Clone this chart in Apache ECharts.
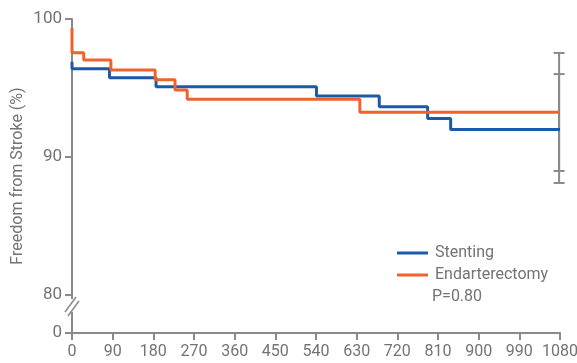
<!DOCTYPE html>
<html>
<head>
<meta charset="utf-8">
<script src="https://cdn.jsdelivr.net/npm/echarts@6/dist/echarts.min.js"></script>
<style>
  html, body { margin: 0; padding: 0; background: #fff; }
  #chart { width: 577px; height: 363px; }
</style>
</head>
<body>
<div id="chart"></div>
<script>
// days since procedure, survival free from stroke (%)
const stentingDays = [0, 0, 83, 186, 541, 680, 787, 838, 1080];
const stentingValues = [96.9, 96.4, 95.75, 95.1, 94.42, 93.65, 92.8, 92.0, 92.0];
const endartDays = [0, 0, 26, 86, 184, 228, 255, 637, 1080];
const endartValues = [99.35, 97.56, 97.03, 96.3, 95.6, 94.85, 94.18, 93.24, 93.24];

// 95% CI at end of follow-up: [low, high]
const stentingCI = [88.12, 96.01];
const endartCI = [88.99, 97.54];

const xTicks = [0, 90, 180, 270, 360, 450, 540, 630, 720, 810, 900, 990, 1080];
// the axis is broken between 0 and 80, so 0 sits at this fake value
const yZero = 77.25;
const yTicks = [yZero, 80, 90, 100];

const gray = '#8a8a8a';
const labelColor = '#737373';
const blue = '#1a5aa6';
const orange = '#f0622d';
const font = 'Roboto, "DejaVu Sans", sans-serif';

const zip = (xs, ys) => xs.map((x, i) => [x, ys[i]]);

const chart = echarts.init(document.getElementById('chart'), null, { renderer: 'canvas' });

const ciSeries = (ci, name) => ({
  name: name,
  type: 'line',
  data: [[1078, ci[0]], [1078, ci[1]]],
  symbol: 'rect',
  symbolSize: [11, 2],
  showSymbol: true,
  itemStyle: { color: gray },
  lineStyle: { color: gray, width: 2 },
  silent: true,
  z: 1
});

chart.setOption({
  animation: false,
  grid: { left: 72, right: 17, top: 19, bottom: 30, outerBoundsMode: 'none', containLabel: false },
  legend: {
    orient: 'vertical',
    left: 392,
    top: 240,
    itemGap: 6,
    itemWidth: 31,
    itemHeight: 3,
    icon: 'rect',
    data: ['Stenting', 'Endarterectomy'],
    textStyle: { color: labelColor, fontSize: 16, fontFamily: font, padding: [0, 0, 0, 2] }
  },
  xAxis: {
    type: 'value',
    min: 0,
    max: 1080,
    interval: 90,
    axisLine: { lineStyle: { color: gray, width: 2 } },
    axisTick: { length: 7, customValues: xTicks, lineStyle: { color: gray, width: 2 } },
    axisLabel: {
      color: labelColor, fontSize: 16, fontFamily: font, margin: 11,
      customValues: xTicks,
      formatter: v => String(v)
    },
    splitLine: { show: false }
  },
  yAxis: {
    type: 'value',
    min: yZero,
    max: 100,
    axisLine: { show: true, lineStyle: { color: gray, width: 2 } },
    axisTick: { show: true, length: 7, customValues: yTicks, lineStyle: { color: gray, width: 2 } },
    axisLabel: {
      color: labelColor, fontSize: 17, fontFamily: font, margin: 10,
      customValues: yTicks,
      formatter: v => (v === yZero ? '0' : String(v))
    },
    splitLine: { show: false }
  },
  series: [
    ciSeries(endartCI, 'ci-e'),
    ciSeries(stentingCI, 'ci-s'),
    {
      name: 'Stenting',
      type: 'line',
      step: 'end',
      data: zip(stentingDays, stentingValues),
      showSymbol: false,
      symbol: 'none',
      color: blue,
      lineStyle: { color: blue, width: 3 },
      z: 3
    },
    {
      name: 'Endarterectomy',
      type: 'line',
      step: 'end',
      data: zip(endartDays, endartValues),
      showSymbol: false,
      symbol: 'none',
      color: orange,
      lineStyle: { color: orange, width: 3 },
      z: 4
    }
  ]
});

const p80 = chart.convertToPixel({ gridIndex: 0 }, [0, 80]);
const ax = p80[0];
const by = p80[1];

chart.setOption({
  graphic: [
    {
      type: 'text',
      x: 18,
      y: 176,
      rotation: Math.PI / 2,
      style: {
        text: 'Freedom from Stroke (%)',
        fill: labelColor,
        font: '16px ' + font,
        align: 'center',
        verticalAlign: 'middle'
      }
    },
    {
      type: 'text',
      x: 432,
      y: 289,
      style: {
        text: 'P=0.80',
        fill: labelColor,
        font: '16px ' + font
      }
    },
    // axis break
    {
      type: 'rect',
      shape: { x: ax - 3, y: by + 4, width: 6, height: 13 },
      style: { fill: '#fff' },
      z: 10
    },
    {
      type: 'line',
      shape: { x1: ax - 7, y1: by + 17, x2: ax + 4, y2: by + 2 },
      style: { stroke: gray, lineWidth: 1.5 },
      z: 11
    },
    {
      type: 'line',
      shape: { x1: ax - 4, y1: by + 21, x2: ax + 7, y2: by + 6 },
      style: { stroke: gray, lineWidth: 1.5 },
      z: 11
    }
  ]
});
</script>
</body>
</html>
